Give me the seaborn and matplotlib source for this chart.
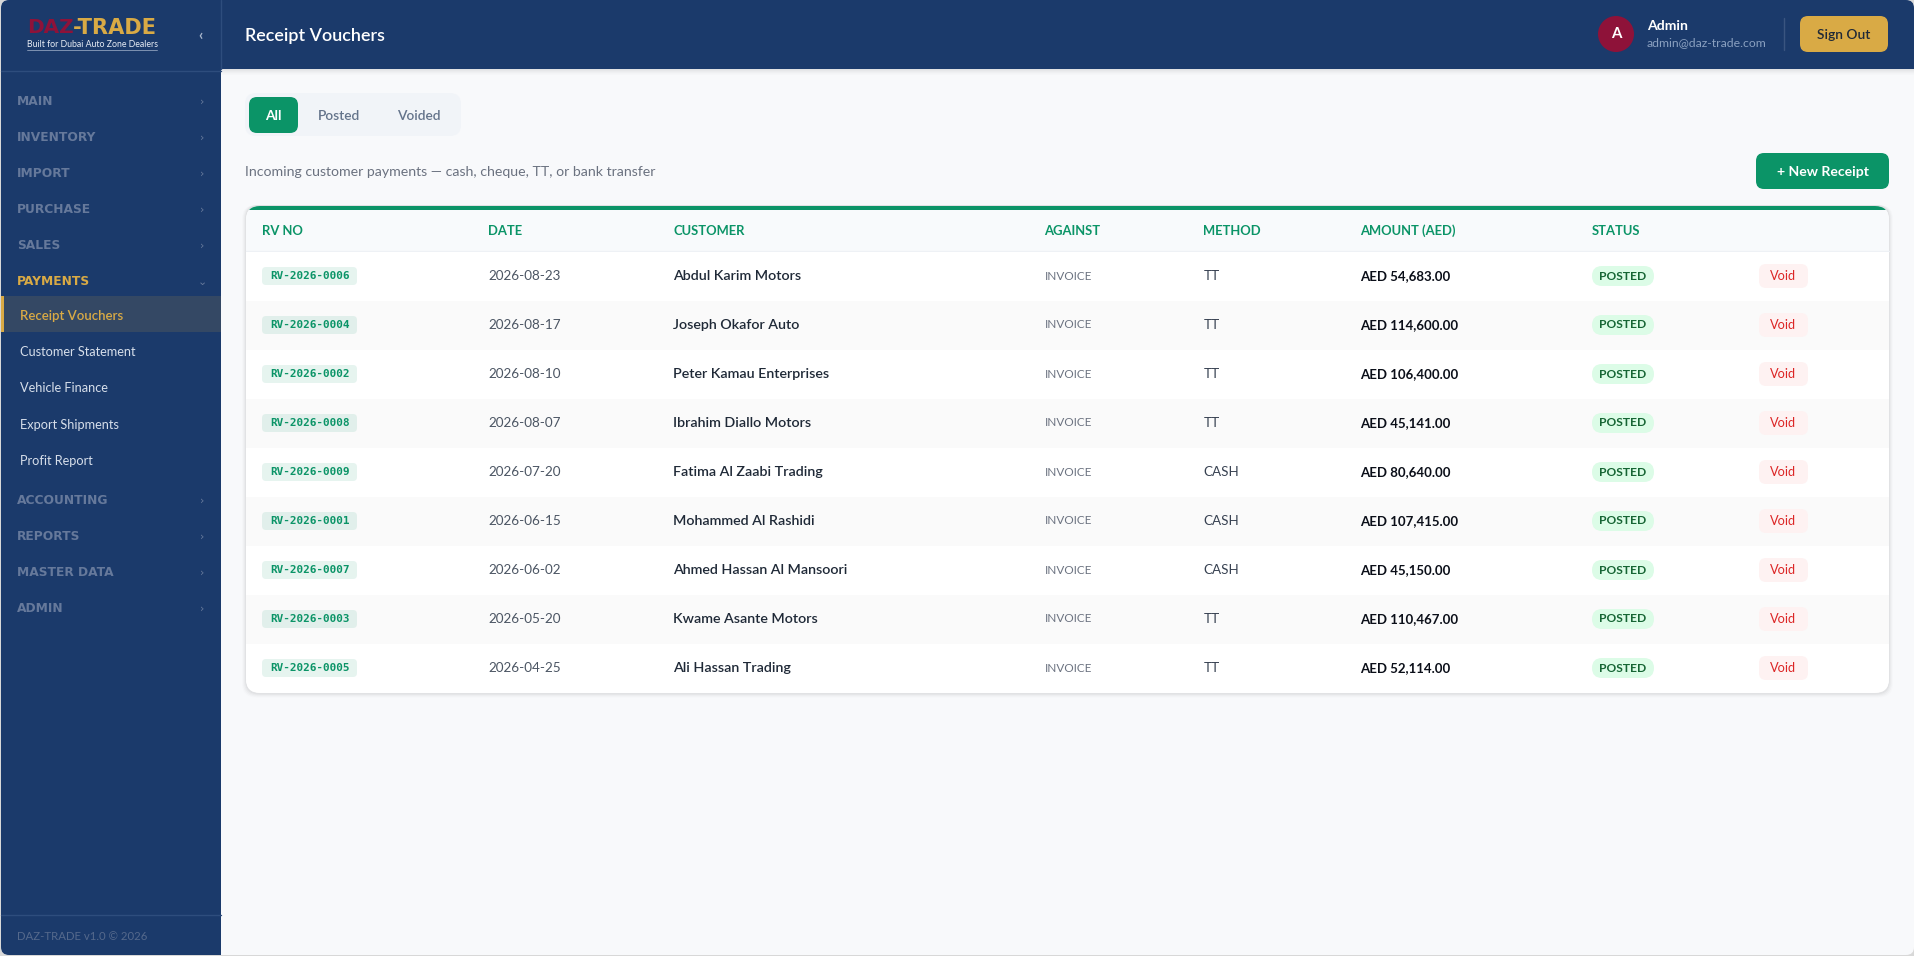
import numpy as np
import pandas as pd
import seaborn as sns
import matplotlib.pyplot as plt
from matplotlib.patches import FancyBboxPatch, Rectangle, Circle
from matplotlib.colors import ListedColormap

# table data
rv_no = ['RV-2026-0006', 'RV-2026-0004', 'RV-2026-0002', 'RV-2026-0008', 'RV-2026-0009',
         'RV-2026-0001', 'RV-2026-0007', 'RV-2026-0003', 'RV-2026-0005']
dates = ['2026-08-23', '2026-08-17', '2026-08-10', '2026-08-07', '2026-07-20',
         '2026-06-15', '2026-06-02', '2026-05-20', '2026-04-25']
customers = ['Abdul Karim Motors', 'Joseph Okafor Auto', 'Peter Kamau Enterprises',
             'Ibrahim Diallo Motors', 'Fatima Al Zaabi Trading', 'Mohammed Al Rashidi',
             'Ahmed Hassan Al Mansoori', 'Kwame Asante Motors', 'Ali Hassan Trading']
against = ['INVOICE'] * 9
methods = ['TT', 'TT', 'TT', 'TT', 'CASH', 'CASH', 'CASH', 'TT', 'TT']
amounts = [54683.00, 114600.00, 106400.00, 45141.00, 80640.00, 107415.00, 45150.00, 110467.00, 52114.00]
statuses = ['POSTED'] * 9
actions = ['Void'] * 9
columns = ['RV NO', 'DATE', 'CUSTOMER', 'AGAINST', 'METHOD', 'AMOUNT (AED)', 'STATUS']
column_x = [262, 488.5, 673.5, 1044.5, 1203.5, 1360, 1592]

nav_top = ['MAIN', 'INVENTORY', 'IMPORT', 'PURCHASE', 'SALES', 'PAYMENTS']
nav_top_y = [100.5, 136.5, 172.5, 208.5, 244.5, 281]
nav_sub = ['Receipt Vouchers', 'Customer Statement', 'Vehicle Finance', 'Export Shipments', 'Profit Report']
nav_sub_y = [315.5, 351.5, 388, 425, 461]
nav_low = ['ACCOUNTING', 'REPORTS', 'MASTER DATA', 'ADMIN']
nav_low_y = [499.5, 535.5, 571.5, 607.5]

NAVY = '#1b3a6b'
GREEN = '#0b9467'
GOLD = '#d9aa45'
MUTED = '#66799b'
BODY_FONT = ['Lato', 'DejaVu Sans']

W, H = 1915, 956
CARD_L, CARD_R, CARD_T, CARD_B = 246, 1889, 206, 692.5
ROW_T, ROW_H = 251.5, 49

sns.set_theme(style='white')
plt.rcParams['font.family'] = BODY_FONT

fig = plt.figure(figsize=(W / 100, H / 100), dpi=100, facecolor='#d8d8d8')


def pixel_axes(z):
    a = fig.add_axes([0, 0, 1, 1], zorder=z)
    a.set_xlim(0, W)
    a.set_ylim(H, 0)
    a.axis('off')
    return a


def rbox(a, x0, y0, x1, y1, r, color, **kw):
    p = FancyBboxPatch((x0 + r, y0 + r), x1 - x0 - 2 * r, y1 - y0 - 2 * r,
                       boxstyle=f'round,pad={r},rounding_size={r}',
                       fc=color, ec='none', lw=0, **kw)
    a.add_patch(p)
    return p


back = pixel_axes(0)
top = pixel_axes(2)

# window, sidebar and header
window = rbox(back, 1, 0, 1914, 955, 8, '#f8f9fb')
for r in [Rectangle((0, 0), 221, H, fc=NAVY, ec='none'),
          Rectangle((221, 0), W - 221, 69, fc=NAVY, ec='none')]:
    back.add_patch(r)
    r.set_clip_path(window)
for i, a_ in enumerate([0.09, 0.07, 0.05, 0.035, 0.02, 0.01]):
    s = Rectangle((221, 69 + i), W - 221, 1, fc='black', alpha=a_, ec='none')
    back.add_patch(s)
    s.set_clip_path(window)
back.plot([220.7, 220.7], [0, 69], color='#2e4d7d', lw=1)
back.plot([1, 221], [71, 71], color='#2e4d7d', lw=1)
back.plot([1, 221], [914.5, 914.5], color='#2e4d7d', lw=1)

# active nav row
back.add_patch(Rectangle((1, 296), 220, 36, fc='#344864', ec='none'))
back.add_patch(Rectangle((1, 296), 3, 36, fc=GOLD, ec='none'))

# card with shadow
for i, a_ in enumerate([0.012, 0.018, 0.025, 0.035]):
    rbox(back, CARD_L - 4 + i, CARD_T - 1, CARD_R + 4 - i, CARD_B + 5 - i, 14, 'black', alpha=a_)
card = rbox(back, CARD_L, CARD_T, CARD_R, CARD_B, 14, 'white')
head = Rectangle((CARD_L, CARD_T), CARD_R - CARD_L, ROW_T - CARD_T, fc='#f8fafc', ec='none')
back.add_patch(head)
head.set_clip_path(card)
band = Rectangle((CARD_L, CARD_T), CARD_R - CARD_L, 4, fc=GREEN, ec='none')
back.add_patch(band)
band.set_clip_path(card)
back.plot([CARD_L, CARD_R], [ROW_T - 0.5, ROW_T - 0.5], color='#eef1f5', lw=1)

# striped rows through a heatmap
n_rows = len(rv_no)
stripes = pd.DataFrame({'row': [i % 2 for i in range(n_rows)]}, index=rv_no)
ax_rows = fig.add_axes([CARD_L / W, 1 - (ROW_T + ROW_H * n_rows) / H,
                        (CARD_R - CARD_L) / W, ROW_H * n_rows / H], zorder=1)
sns.heatmap(stripes, ax=ax_rows, cbar=False, cmap=ListedColormap(['#ffffff', '#fafafa']),
            vmin=0, vmax=1, xticklabels=False, yticklabels=False)
ax_rows.collections[0].set_clip_path(card)
ax_rows.axis('off')


def row_y(i):
    return ROW_T + ROW_H * (i + 0.5)


def px(size):
    return size * 0.72


# logo
top.text(27, 27.5, 'DAZ', color='#8e1239', fontsize=px(20), family='DejaVu Sans', weight='bold', va='center')
top.text(73, 27.5, '-TRADE', color=GOLD, fontsize=px(21), family='DejaVu Sans', weight='bold', va='center')
top.text(27, 44, 'Built for Dubai Auto Zone Dealers', color='#e8edf5', fontsize=px(8.8), va='center')
top.plot([27, 157], [49.5, 49.5], color='#8ea0bd', lw=0.6)
top.text(201, 36, '‹', color='#a8b6cc', fontsize=px(15), ha='center', va='center', weight='bold')

# sidebar
for name, y in zip(nav_top + nav_low, nav_top_y + nav_low_y):
    c = GOLD if name == 'PAYMENTS' else MUTED
    top.text(17, y + 0.5, name, color=c, fontsize=px(12.2), family='DejaVu Sans', weight='bold', va='center')
    top.text(202, y + 1, '⌄' if name == 'PAYMENTS' else '›', color=MUTED, fontsize=px(11),
             family='DejaVu Sans', ha='center', va='center')
for name, y in zip(nav_sub, nav_sub_y):
    if name == 'Receipt Vouchers':
        top.text(20, y, name, color=GOLD, fontsize=px(13.2), va='center', weight='semibold')
    else:
        top.text(20, y, name, color='#d6deea', fontsize=px(12.8), va='center')
top.text(17, 936, 'DAZ-TRADE v1.0 © 2026', color='#55698c', fontsize=px(11.4), va='center')

# header
top.text(245, 35.5, 'Receipt Vouchers', color='white', fontsize=px(18), weight='semibold', va='center')
top.add_patch(Circle((1616, 34), 18, fc='#8e1239', ec='none'))
top.text(1616, 34, 'A', color='white', fontsize=px(15), weight='bold', ha='center', va='center')
top.text(1647, 26, 'Admin', color='white', fontsize=px(14), weight='bold', va='center')
top.text(1647, 42.5, 'admin@daz-trade.com', color='#8aa0c0', fontsize=px(12.2), va='center')
top.plot([1784, 1784], [18, 50], color='#3a5580', lw=1)
rbox(top, 1800, 16, 1888, 52, 8, GOLD)
top.text(1844, 35, 'Sign Out', color='#1f2937', fontsize=px(13.8), weight='semibold', ha='center', va='center')

# filter tabs
rbox(top, 245, 93, 461, 136, 11, '#f1f4f8')
rbox(top, 249, 97, 298, 133, 8, GREEN)
top.text(273.5, 116, 'All', color='white', fontsize=px(13.8), weight='bold', ha='center', va='center')
top.text(339.5, 116, 'Posted', color='#64748b', fontsize=px(13.8), weight='semibold', ha='center', va='center')
top.text(419, 116, 'Voided', color='#64748b', fontsize=px(13.8), weight='semibold', ha='center', va='center')

top.text(245, 171.5, 'Incoming customer payments — cash, cheque, TT, or bank transfer',
         color='#6b7280', fontsize=px(14.1), va='center')
rbox(top, 1756, 153, 1889, 189, 8, GREEN)
top.text(1823, 172, '+ New Receipt', color='white', fontsize=px(14), weight='bold', ha='center', va='center')

# table
for name, x in zip(columns, column_x):
    top.text(x, 231, name, color=GREEN, fontsize=px(13), weight='bold', va='center')

for i in range(n_rows):
    y = row_y(i)
    rbox(top, 262, y - 9, 357, y + 9, 4, GREEN, alpha=0.10)
    top.text(270, y, rv_no[i], color=GREEN, fontsize=px(11), family='DejaVu Sans Mono',
             weight='bold', va='center')
    top.text(column_x[1], y, dates[i], color='#4b5563', fontsize=px(13.5), va='center')
    top.text(column_x[2], y, customers[i], color='#1f2937', fontsize=px(14.3), weight='semibold', va='center')
    top.text(column_x[3], y, against[i], color='#6b7280', fontsize=px(11.8), va='center')
    top.text(column_x[4], y, methods[i], color='#374151', fontsize=px(13.5), va='center')
    top.text(column_x[5], y, f'AED {amounts[i]:,.2f}', color='#0b0f19', fontsize=px(13.2),
             weight='bold', va='center')
    rbox(top, 1592, y - 10, 1654, y + 10, 10, '#dcfce7')
    top.text(1623, y, statuses[i], color='#166534', fontsize=px(12), weight='bold', ha='center', va='center')
    rbox(top, 1759, y - 12, 1808, y + 12, 7, '#fef2f2')
    top.text(1783.5, y, actions[i], color='#dc2626', fontsize=px(12.8), ha='center', va='center')

fig.savefig('out.png', dpi=100, facecolor=fig.get_facecolor())
